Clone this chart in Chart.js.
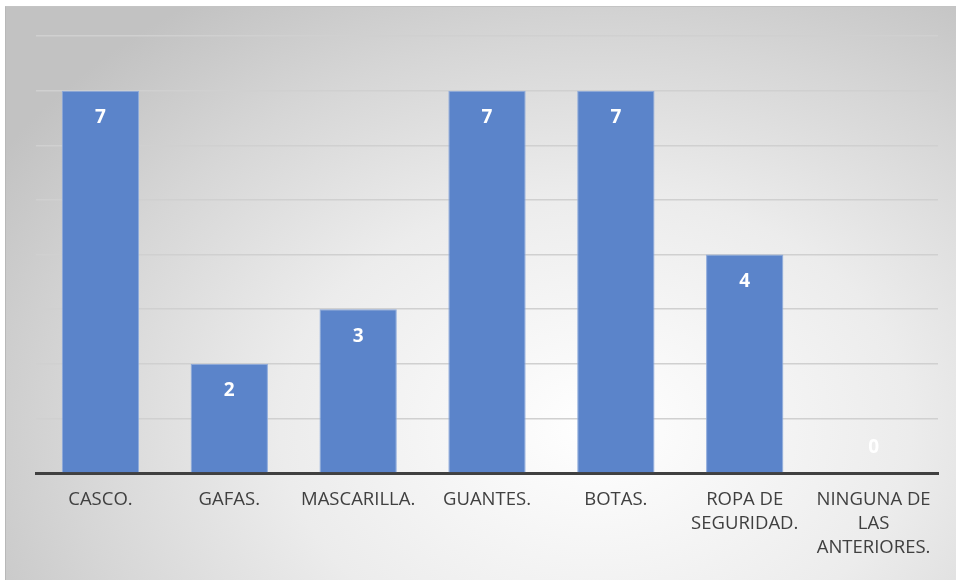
<!DOCTYPE html>
<html>
<head>
<meta charset="utf-8">
<script src="https://cdn.jsdelivr.net/npm/chart.js@4.4.1/dist/chart.umd.min.js"></script>
<style>
  html, body { margin: 0; padding: 0; background: #ffffff; }
  #frame {
    position: absolute;
    left: 5px; top: 6px;
    width: 951px; height: 574px;
    box-sizing: border-box;
    border-top: 1px solid #c4c4c4;
    border-left: 1px solid #b8b8b8;
    background: radial-gradient(ellipse 700px 520px at 590px 420px, #ffffff 0%, #ececec 45%, #d6d6d6 75%, #c2c2c2 100%);
  }
  #chart { display: block; }
</style>
</head>
<body>
<div id="frame"><canvas id="chart" width="950" height="573"></canvas></div>
<script>
const categories = [
  "CASCO.",
  "GAFAS.",
  "MASCARILLA.",
  "GUANTES.",
  "BOTAS.",
  ["ROPA DE", "SEGURIDAD."],
  ["NINGUNA DE", "LAS", "ANTERIORES."],
];
const counts = [7, 2, 3, 7, 7, 4, 0];
const yMax = 8;

// white value labels just inside the top of each bar (above the axis when empty)
const valueLabels = {
  id: "valueLabels",
  afterDatasetsDraw(chart) {
    const ctx = chart.ctx;
    const meta = chart.getDatasetMeta(0);
    ctx.save();
    ctx.fillStyle = "#ffffff";
    ctx.font = "bold 19px 'Open Sans', sans-serif";
    ctx.textAlign = "center";
    ctx.textBaseline = "middle";
    meta.data.forEach((bar, i) => {
      const y = counts[i] > 0 ? bar.y + 27 : bar.y - 25;
      ctx.fillText(String(counts[i]), bar.x, y);
    });
    ctx.restore();
  },
};

new Chart(document.getElementById("chart").getContext("2d"), {
  type: "bar",
  data: {
    labels: categories,
    datasets: [{
      data: counts,
      backgroundColor: "#5b84ca",
      borderColor: "#8eabdc",
      borderWidth: 1,
      categoryPercentage: 0.6,
      barPercentage: 1,
    }],
  },
  options: {
    responsive: false,
    animation: false,
    layout: { padding: { left: 30, right: 18, top: 29, bottom: 0 } },
    plugins: {
      legend: { display: false },
      tooltip: { enabled: false },
    },
    scales: {
      x: {
        grid: { display: false },
        border: { display: true, color: "#404040", width: 3 },
        ticks: {
          autoSkip: false,
          maxRotation: 0,
          minRotation: 0,
          padding: 7,
          color: "#404040",
          font: { family: "'Open Sans', sans-serif", size: 18.5, lineHeight: "24px" },
        },
        afterFit(scale) { scale.height = 107; },
      },
      y: {
        min: 0,
        max: yMax,
        ticks: { display: false, stepSize: 1 },
        border: { display: false },
        grid: {
          drawTicks: false,
          lineWidth: 1.5,
          color: (c) => (c.tick && c.tick.value === 0 ? "rgba(0,0,0,0)" : "#d0d0d0"),
        },
        afterFit(scale) { scale.width = 0; },
      },
    },
  },
  plugins: [valueLabels],
});
</script>
</body>
</html>
